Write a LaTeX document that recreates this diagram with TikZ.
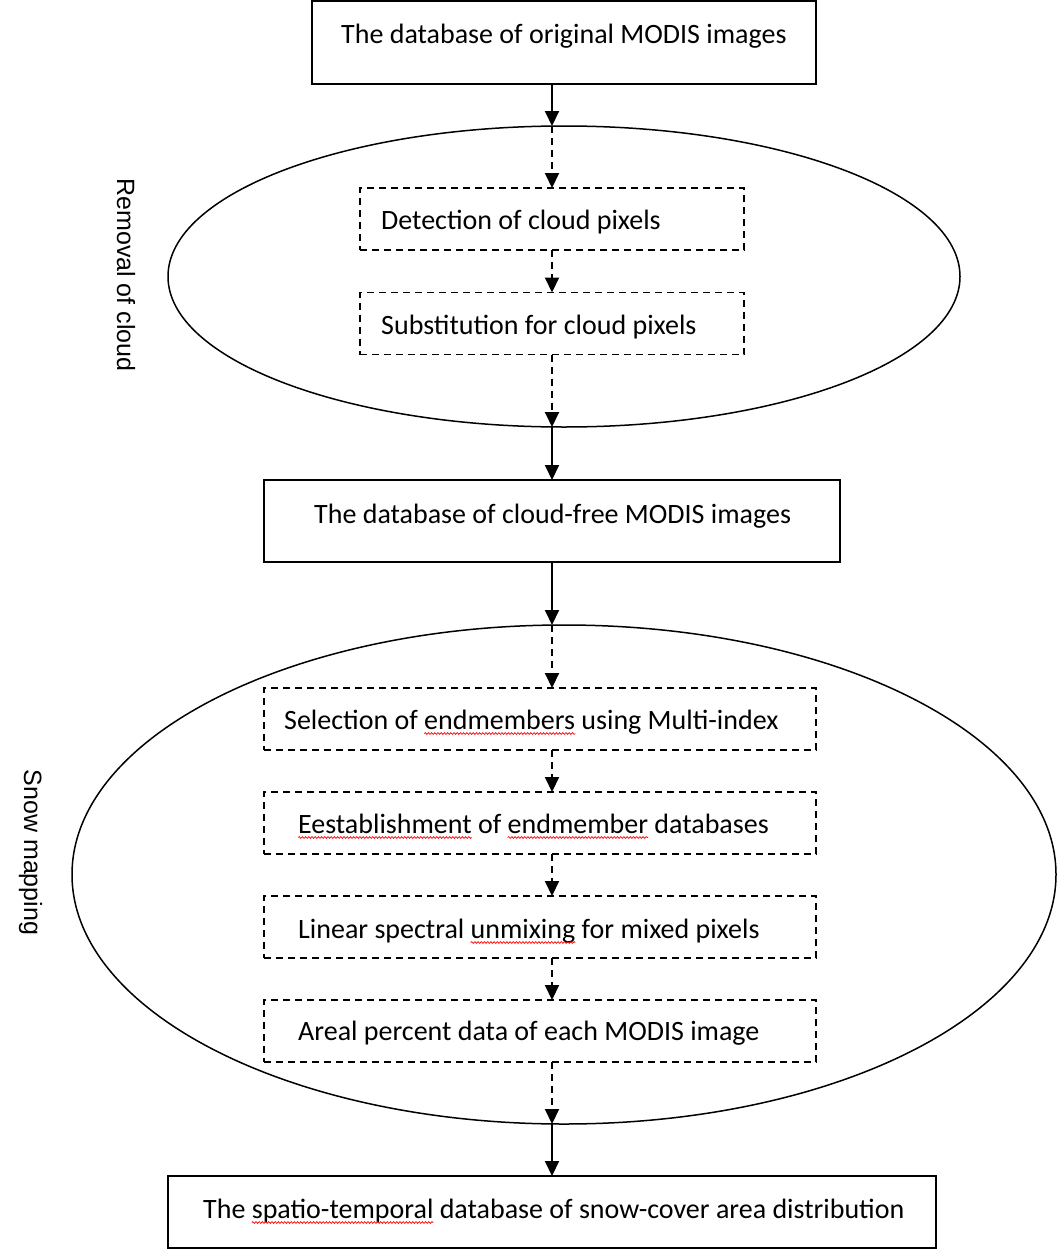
\documentclass[tikz,border=0pt]{standalone}
\usepackage{fontspec}
\setmainfont{Carlito}
\newfontfamily\sidefont{Liberation Sans}
\usetikzlibrary{arrows.meta,shapes.geometric,decorations.pathmorphing}
\newlength\sperrw
\newcommand\sperr[1]{\settowidth\sperrw{#1}#1\tikz[baseline=0pt]{\useasboundingbox (0pt,0pt);\draw[red,solid,line width=0.7pt,decorate,decoration={snake,amplitude=0.9pt,segment length=3.2pt}] (-\sperrw,-4.5pt) -- (0pt,-4.5pt);}}
\tikzset{
  solidbox/.style={draw,line width=2pt,inner sep=0pt,outer sep=0pt},
  dashbox/.style={draw,line width=1.8pt,dash pattern=on 7pt off 5pt,inner sep=0pt,outer sep=0pt},
  oval/.style={draw,ellipse,line width=1.5pt,inner sep=0pt,outer sep=0pt},
  txt/.style={inner sep=0pt,anchor=base west,font=\fontsize{28}{34}\selectfont},
  sidetxt/.style={inner sep=0pt,anchor=base,rotate=-90,font=\sidefont\fontsize{25}{30}\selectfont},
  solidarrow/.style={line width=2pt,-{Triangle[width=14pt,length=15pt]}},
  dasharrow/.style={line width=2pt,dash pattern=on 7pt off 5pt,-{Triangle[width=14pt,length=15pt]}},
}
\begin{document}
\begin{tikzpicture}[x=1pt,y=-1pt]
\useasboundingbox (0,0) rectangle (1058,1250);
\coordinate (ax) at (552,0);
% ellipses
\node[oval,minimum width=792pt,minimum height=301pt] (e1) at (564,276.5) {};
\node[oval,minimum width=984pt,minimum height=499pt] (e2) at (564,874.5) {};
% boxes
\node[solidbox,minimum width=504pt,minimum height=83pt] (b1) at (564,42.5) {};
\node[dashbox,minimum width=384pt,minimum height=62pt] (b2) at (552,219) {};
\node[dashbox,minimum width=384pt,minimum height=62pt] (b3) at (552,323.5) {};
\node[solidbox,minimum width=576pt,minimum height=82pt] (b4) at (552,521) {};
\node[dashbox,minimum width=552pt,minimum height=62pt] (b5) at (540,719) {};
\node[dashbox,minimum width=552pt,minimum height=62pt] (b6) at (540,823) {};
\node[dashbox,minimum width=552pt,minimum height=62pt] (b7) at (540,927) {};
\node[dashbox,minimum width=552pt,minimum height=62pt] (b8) at (540,1031) {};
\node[solidbox,minimum width=768pt,minimum height=72pt] (b9) at (552,1212) {};
% texts
\node[txt] (t1) at (341,43) {The database of original MODIS images};
\node[txt] (t2) at (381,229) {Detection of cloud pixels};
\node[txt] (t3) at (381,334) {Substitution for cloud pixels};
\node[txt] (t4) at (314,523) {The database of cloud-free MODIS images};
\node[txt] (t5) at (284,729) {Selection of \sperr{endmembers} using Multi-index};
\node[txt] (t6) at (298,833) {\sperr{Eestablishment} of \sperr{endmember} databases};
\node[txt] (t7) at (298,938) {Linear spectral \sperr{unmixing} for mixed pixels};
\node[txt] (t8) at (298,1040) {Areal percent data of each MODIS image};
\node[txt] (t9) at (203,1218) {The \sperr{spatio-temporal} database of snow-cover area distribution};
% side labels
\node[sidetxt] (l1) at (117,275) {Removal of cloud};
\node[sidetxt] (l2) at (24,852.5) {Snow mapping};
% arrows
\draw[solidarrow] (b1.south -| ax) -- (e1.north -| ax);
\draw[dasharrow] (e1.north -| ax) -- (b2.north -| ax);
\draw[dasharrow] (b2.south -| ax) -- (b3.north -| ax);
\draw[dasharrow] (b3.south -| ax) -- (e1.south -| ax);
\draw[solidarrow] (e1.south -| ax) -- (b4.north -| ax);
\draw[solidarrow] (b4.south -| ax) -- (e2.north -| ax);
\draw[dasharrow] (e2.north -| ax) -- (b5.north -| ax);
\draw[dasharrow] (b5.south -| ax) -- (b6.north -| ax);
\draw[dasharrow] (b6.south -| ax) -- (b7.north -| ax);
\draw[dasharrow] (b7.south -| ax) -- (b8.north -| ax);
\draw[dasharrow] (b8.south -| ax) -- (e2.south -| ax);
\draw[solidarrow] (e2.south -| ax) -- (b9.north -| ax);
\end{tikzpicture}
\end{document}
